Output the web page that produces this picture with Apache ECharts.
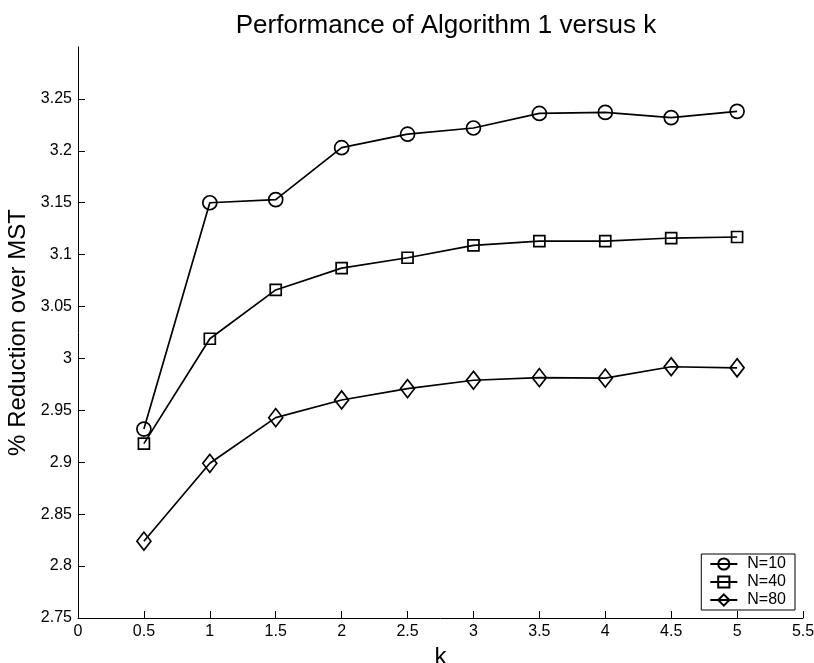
<!DOCTYPE html>
<html>
<head>
<meta charset="utf-8">
<script src="https://cdn.jsdelivr.net/npm/echarts@6/dist/echarts.min.js"></script>
<style>
  html, body { margin: 0; padding: 0; background: #fff; }
  #chart { width: 814px; height: 663px; }
</style>
</head>
<body>
<div id="chart"></div>
<script>
const kValues = [0.5, 1, 1.5, 2, 2.5, 3, 3.5, 4, 4.5, 5];
const n10 = [2.932, 3.150, 3.153, 3.203, 3.216, 3.222, 3.236, 3.237, 3.232, 3.238];
const n40 = [2.918, 3.019, 3.066, 3.087, 3.097, 3.109, 3.113, 3.113, 3.116, 3.117];
const n80 = [2.824, 2.899, 2.943, 2.960, 2.971, 2.979, 2.9815, 2.981, 2.992, 2.991];
const seriesNames = ['N=10', 'N=40', 'N=80'];

const font = 'Liberation Sans';
const myChart = echarts.init(document.getElementById('chart'));

function makeSeries(name, values, symbol, size) {
    return {
        name: name,
        type: 'line',
        data: kValues.map((k, i) => [k, values[i]]),
        symbol: symbol,
        symbolSize: size,
        showAllSymbol: true,
        lineStyle: { color: '#000', width: 1.7 },
        itemStyle: { color: 'rgba(255,255,255,0)', borderColor: '#000', borderWidth: 1.7 },
        emphasis: { disabled: true },
        animation: false
    };
}

const option = {
    backgroundColor: '#fff',
    title: {
        text: 'Performance of Algorithm 1 versus k',
        left: 441,
        textAlign: 'center',
        top: 8,
        textStyle: { fontFamily: font, fontSize: 26, fontWeight: 'normal', color: '#000' }
    },
    grid: { left: 78, right: 11, top: 47, bottom: 45, containLabel: false, outerBoundsMode: 'none' },
    legend: {
        right: 19,
        bottom: 53,
        orient: 'vertical',
        data: seriesNames,
        itemWidth: 27,
        itemHeight: 14,
        itemGap: 2,
        padding: [2, 9, 2, 8],
        borderColor: '#000',
        borderWidth: 1,
        backgroundColor: '#fff',
        textStyle: { fontFamily: font, fontSize: 16, color: '#000', padding: [0, 0, 0, 5] }
    },
    xAxis: {
        type: 'value',
        min: 0,
        max: 5.5,
        interval: 0.5,
        name: 'k',
        nameLocation: 'middle',
        nameGap: 18,
        nameTextStyle: { fontFamily: font, fontSize: 24, color: '#000' },
        axisLine: { lineStyle: { color: '#000', width: 1 } },
        axisTick: { inside: true, length: 7, lineStyle: { color: '#000' } },
        axisLabel: { fontFamily: font, fontSize: 16, color: '#000', margin: 6,
            formatter: v => String(+v.toFixed(2)) },
        splitLine: { show: false }
    },
    yAxis: {
        type: 'value',
        min: 2.75,
        max: 3.3,
        interval: 0.05,
        name: '% Reduction over MST',
        nameLocation: 'middle',
        nameGap: 42,
        nameTextStyle: { fontFamily: font, fontSize: 24, color: '#000' },
        axisLine: { show: true, lineStyle: { color: '#000', width: 1 } },
        axisTick: { show: true, inside: true, length: 7, lineStyle: { color: '#000' } },
        axisLabel: { fontFamily: font, fontSize: 16, color: '#000', margin: 6, showMaxLabel: false,
            formatter: v => String(+v.toFixed(2)) },
        splitLine: { show: false }
    },
    series: [
        makeSeries(seriesNames[0], n10, 'circle', 14),
        makeSeries(seriesNames[1], n40, 'rect', 11),
        makeSeries(seriesNames[2], n80, 'diamond', [14, 18])
    ],
    animation: false
};

myChart.setOption(option);
window.addEventListener('resize', () => myChart.resize());
</script>
</body>
</html>
